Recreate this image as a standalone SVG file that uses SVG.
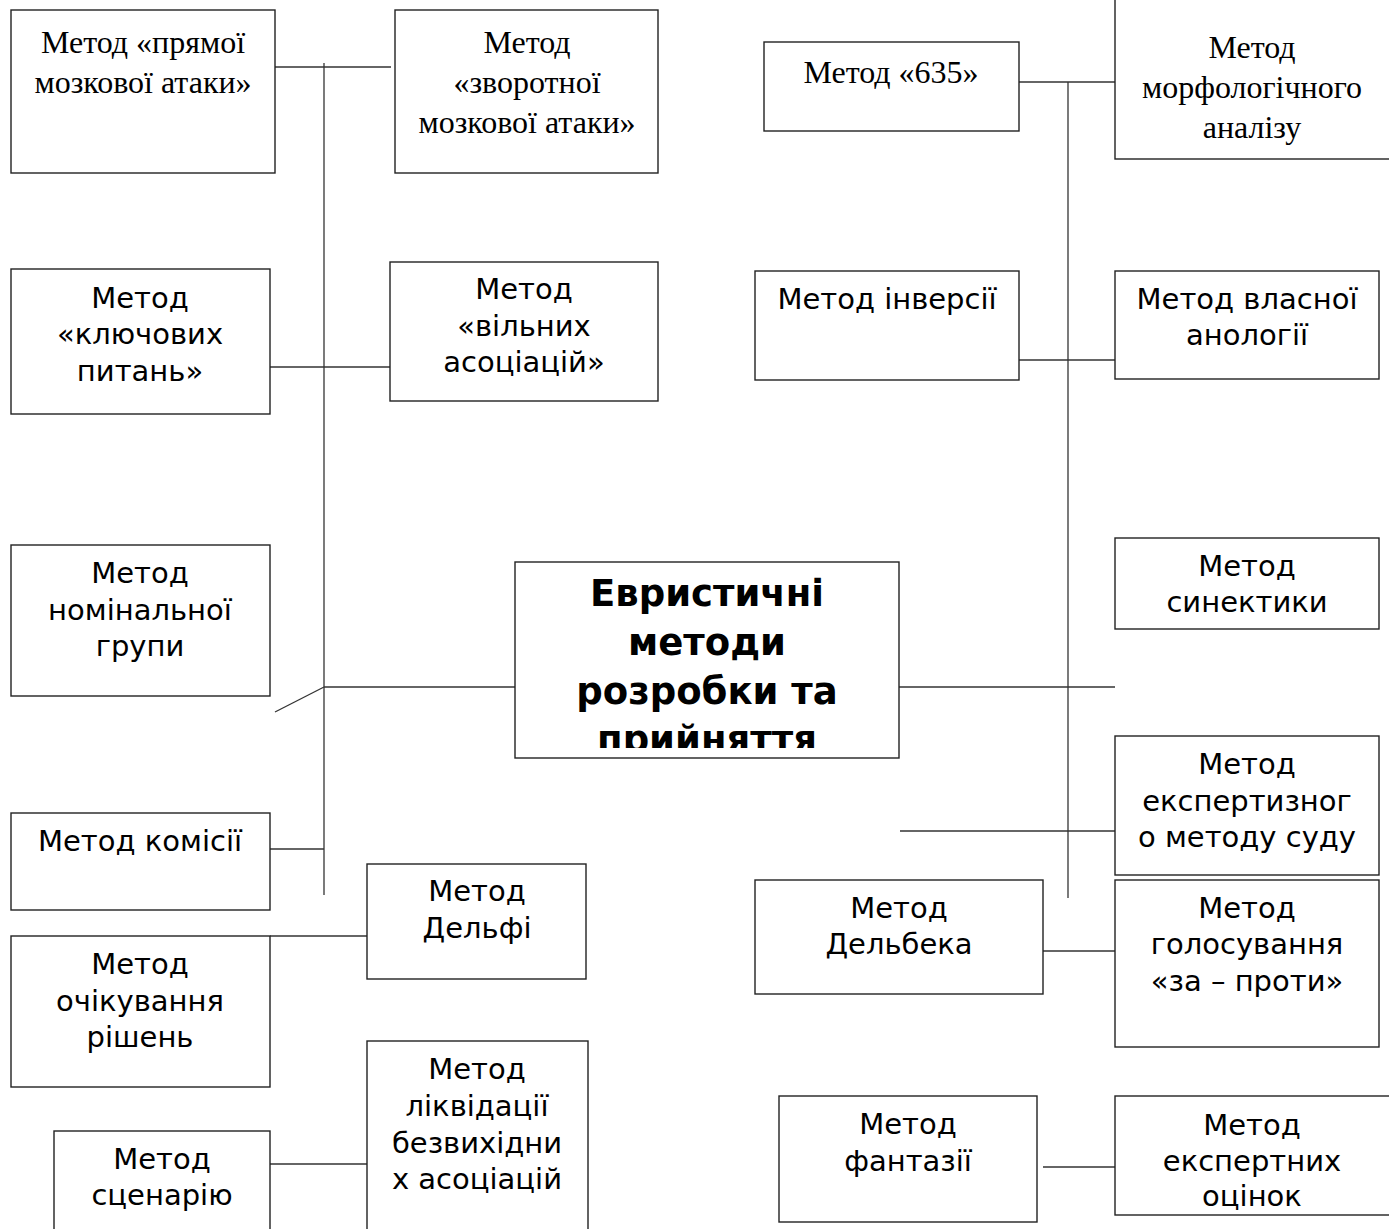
<svg xmlns="http://www.w3.org/2000/svg" width="1389" height="1229" viewBox="0 0 1389 1229">
<style>
.box{fill:#fff;stroke:#222;stroke-width:1.4}
.ln{stroke:#333;stroke-width:1.3;fill:none}
.s{font-family:"DejaVu Sans",sans-serif;font-size:29px;text-anchor:middle;fill:#000}
.r{font-family:"Liberation Serif","Times New Roman",serif;font-size:32px;text-anchor:middle;fill:#000}
.b{font-family:"DejaVu Sans",sans-serif;font-size:37px;font-weight:bold;text-anchor:middle;fill:#000}
</style>
<defs><clipPath id="cc"><rect x="515" y="562" width="384" height="186"/></clipPath></defs>
<rect width="1389" height="1229" fill="#fff"/>
<g id="connectors">
<line class="ln" x1="270" y1="67" x2="391" y2="67"/>
<line class="ln" x1="324" y1="63" x2="324" y2="895"/>
<line class="ln" x1="270" y1="367" x2="390" y2="367"/>
<line class="ln" x1="324" y1="687" x2="515" y2="687"/>
<line class="ln" x1="324" y1="687" x2="275" y2="712"/>
<line class="ln" x1="270" y1="849" x2="324" y2="849"/>
<line class="ln" x1="270" y1="936" x2="367" y2="936"/>
<line class="ln" x1="270" y1="1164" x2="367" y2="1164"/>
<line class="ln" x1="1019" y1="82" x2="1115" y2="82"/>
<line class="ln" x1="1068" y1="82" x2="1068" y2="898"/>
<line class="ln" x1="1019" y1="360" x2="1115" y2="360"/>
<line class="ln" x1="899" y1="687" x2="1115" y2="687"/>
<line class="ln" x1="900" y1="831" x2="1115" y2="831"/>
<line class="ln" x1="1043" y1="951" x2="1115" y2="951"/>
<line class="ln" x1="1043" y1="1167" x2="1115" y2="1167"/>
</g>
<g id="n-pryamoi"><rect class="box" x="11" y="10" width="264" height="163"/><text class="r"><tspan x="143" y="53">Метод «прямої</tspan><tspan x="143" y="93">мозкової атаки»</tspan></text></g>
<g id="n-zvorotnoi"><rect class="box" x="395" y="10" width="263" height="163"/><text class="r"><tspan x="527" y="53">Метод</tspan><tspan x="527" y="93">«зворотної</tspan><tspan x="527" y="133">мозкової атаки»</tspan></text></g>
<g id="n-klyuch"><rect class="box" x="11" y="269" width="259" height="145"/><text class="s"><tspan x="140" y="308">Метод</tspan><tspan x="140" y="344">«ключових</tspan><tspan x="140" y="381">питань»</tspan></text></g>
<g id="n-vilnykh"><rect class="box" x="390" y="262" width="268" height="139"/><text class="s"><tspan x="524" y="299">Метод</tspan><tspan x="524" y="336">«вільних</tspan><tspan x="524" y="372">асоціацій»</tspan></text></g>
<g id="n-nominal"><rect class="box" x="11" y="545" width="259" height="151"/><text class="s"><tspan x="140" y="583">Метод</tspan><tspan x="140" y="620">номінальної</tspan><tspan x="140" y="656">групи</tspan></text></g>
<g id="n-center"><rect class="box" x="515" y="562" width="384" height="196"/><text class="b" clip-path="url(#cc)"><tspan x="707" y="606">Евристичні</tspan><tspan x="707" y="655">методи</tspan><tspan x="707" y="704">розробки та</tspan><tspan x="707" y="752">прийняття</tspan></text></g>
<g id="n-komisii"><rect class="box" x="11" y="813" width="259" height="97"/><text class="s" x="140" y="851">Метод комісії</text></g>
<g id="n-delfi"><rect class="box" x="367" y="864" width="219" height="115"/><text class="s"><tspan x="477" y="901">Метод</tspan><tspan x="477" y="938">Дельфі</tspan></text></g>
<g id="n-ochikuv"><rect class="box" x="11" y="936" width="259" height="151"/><text class="s"><tspan x="140" y="974">Метод</tspan><tspan x="140" y="1011">очікування</tspan><tspan x="140" y="1047">рішень</tspan></text></g>
<g id="n-likvid"><rect class="box" x="367" y="1041" width="221" height="200"/><text class="s"><tspan x="477" y="1079">Метод</tspan><tspan x="477" y="1116">ліквідації</tspan><tspan x="477" y="1153">безвихідни</tspan><tspan x="477" y="1189">х асоціацій</tspan></text></g>
<g id="n-scenar"><rect class="box" x="54" y="1131" width="216" height="110"/><text class="s"><tspan x="162" y="1169">Метод</tspan><tspan x="162" y="1205">сценарію</tspan></text></g>
<g id="n-635"><rect class="box" x="764" y="42" width="255" height="89"/><text class="r" x="891" y="83">Метод «635»</text></g>
<g id="n-morf"><rect class="box" x="1115" y="-2" width="290" height="161"/><text class="r"><tspan x="1252" y="58">Метод</tspan><tspan x="1252" y="98">морфологічного</tspan><tspan x="1252" y="138">аналізу</tspan></text></g>
<g id="n-inversii"><rect class="box" x="755" y="271" width="264" height="109"/><text class="s" x="887" y="309">Метод інверсії</text></g>
<g id="n-vlasnoi"><rect class="box" x="1115" y="271" width="264" height="108"/><text class="s"><tspan x="1247" y="309">Метод власної</tspan><tspan x="1247" y="345">анології</tspan></text></g>
<g id="n-synekt"><rect class="box" x="1115" y="538" width="264" height="91"/><text class="s"><tspan x="1247" y="576">Метод</tspan><tspan x="1247" y="612">синектики</tspan></text></g>
<g id="n-ekspertyz"><rect class="box" x="1115" y="736" width="264" height="139"/><text class="s"><tspan x="1247" y="774">Метод</tspan><tspan x="1247" y="811">експертизног</tspan><tspan x="1247" y="847">о методу суду</tspan></text></g>
<g id="n-delbek"><rect class="box" x="755" y="880" width="288" height="114"/><text class="s"><tspan x="899" y="918">Метод</tspan><tspan x="899" y="954">Дельбека</tspan></text></g>
<g id="n-holos"><rect class="box" x="1115" y="880" width="264" height="167"/><text class="s"><tspan x="1247" y="918">Метод</tspan><tspan x="1247" y="954">голосування</tspan><tspan x="1247" y="991">«за – проти»</tspan></text></g>
<g id="n-fantaz"><rect class="box" x="779" y="1096" width="258" height="126"/><text class="s"><tspan x="908" y="1134">Метод</tspan><tspan x="908" y="1171">фантазії</tspan></text></g>
<g id="n-ekspoc"><rect class="box" x="1115" y="1096" width="290" height="119"/><text class="s"><tspan x="1252" y="1135">Метод</tspan><tspan x="1252" y="1171">експертних</tspan><tspan x="1252" y="1206">оцінок</tspan></text></g>
</svg>
